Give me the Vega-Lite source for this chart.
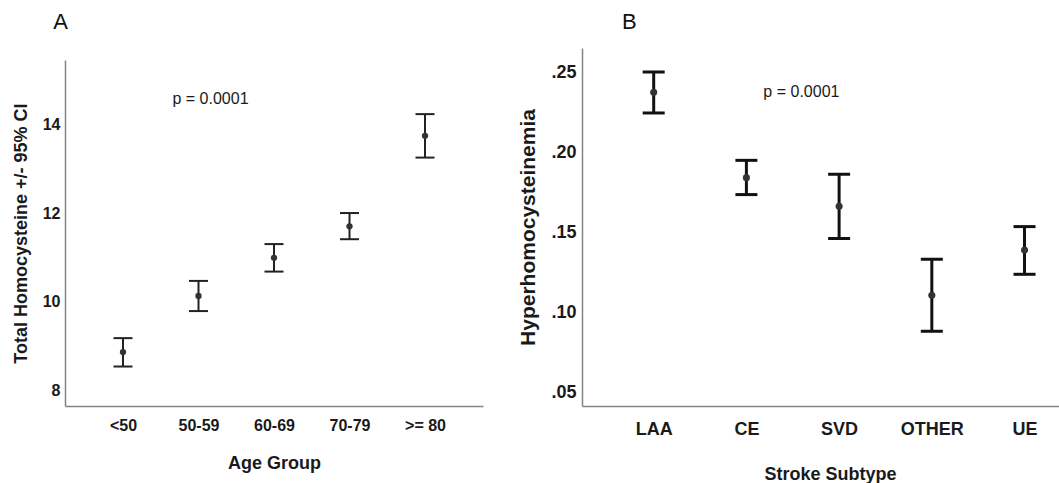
{
  "$schema": "https://vega.github.io/schema/vega-lite/v6.json",
  "background": "white",
  "padding": {"left": 12, "top": 11, "right": 0, "bottom": 0},
  "autosize": {"type": "pad"},
  "spacing": 34,
  "config": {
    "font": "Liberation Sans",
    "view": {"stroke": null},
    "axis": {
      "grid": false,
      "ticks": false,
      "domainColor": "#858585",
      "domainWidth": 1.5,
      "labelColor": "#1a1a1a",
      "titleColor": "#1a1a1a",
      "labelFontWeight": "bold",
      "titleFontWeight": "bold"
    }
  },
  "hconcat": [
    {
      "title": {"text": "A", "anchor": "start", "frame": "bounds", "dx": 41, "offset": 14, "fontSize": 22, "fontWeight": "normal", "color": "#111"},
      "spacing": 10,
      "vconcat": [
        {
          "width": 418,
          "height": 2,
          "data": {"values": [{}]},
          "mark": {"type": "rect", "opacity": 0},
          "encoding": {}
        },
        {
          "width": 418,
          "height": 346,
          "data": {"values": [
            {"group": "<50", "mean": 8.865, "lo": 8.54, "hi": 9.18},
            {"group": "50-59", "mean": 10.13, "lo": 9.79, "hi": 10.47},
            {"group": "60-69", "mean": 10.99, "lo": 10.68, "hi": 11.30},
            {"group": "70-79", "mean": 11.70, "lo": 11.41, "hi": 12.0},
            {"group": ">= 80", "mean": 13.74, "lo": 13.25, "hi": 14.23}
          ]},
          "encoding": {
            "x": {"field": "group", "type": "ordinal", "sort": null,
              "scale": {"type": "point", "padding": 0.768},
              "axis": {"title": "Age Group", "labelAngle": 0, "labelFontSize": 16, "titleFontSize": 18, "labelPadding": 11, "titlePadding": 21}}
          },
          "layer": [
            {"mark": {"type": "rule", "strokeWidth": 2, "color": "#222"},
             "encoding": {
               "y": {"field": "lo", "type": "quantitative", "scale": {"domain": [7.65, 15.45], "nice": false, "zero": false},
                 "axis": {"title": "Total Homocysteine +/- 95% CI", "values": [8, 10, 12, 14], "labelFontSize": 16, "labelPadding": 5, "titleFontSize": 18, "titlePadding": 12}},
               "y2": {"field": "hi"}}},
            {"mark": {"type": "tick", "size": 19, "thickness": 2, "color": "#222", "opacity": 1},
             "encoding": {"y": {"field": "lo", "type": "quantitative"}}},
            {"mark": {"type": "tick", "size": 19, "thickness": 2, "color": "#222", "opacity": 1},
             "encoding": {"y": {"field": "hi", "type": "quantitative"}}},
            {"mark": {"type": "point", "filled": true, "size": 40, "color": "#333", "opacity": 1},
             "encoding": {"y": {"field": "mean", "type": "quantitative"}}},
            {"data": {"values": [{"label": "p = 0.0001"}]},
             "mark": {"type": "text", "fontSize": 16, "dx": 12, "color": "#1a1a1a", "baseline": "middle"},
             "encoding": {"text": {"field": "label"}, "x": {"datum": "50-59"}, "y": {"datum": 14.56}}}
          ]
        }
      ]
    },
    {
      "width": 478,
      "height": 358,
      "title": {"text": "B", "anchor": "start", "frame": "group", "dx": 40, "offset": 14, "fontSize": 22, "fontWeight": "normal", "color": "#111"},
      "data": {"values": [
        {"group": "LAA", "mean": 0.2373, "lo": 0.2244, "hi": 0.25},
        {"group": "CE", "mean": 0.184, "lo": 0.1734, "hi": 0.1948},
        {"group": "SVD", "mean": 0.1661, "lo": 0.1459, "hi": 0.1861},
        {"group": "OTHER", "mean": 0.1105, "lo": 0.088, "hi": 0.133},
        {"group": "UE", "mean": 0.1388, "lo": 0.1236, "hi": 0.1534}
      ]},
      "encoding": {
        "x": {"field": "group", "type": "ordinal", "sort": null,
          "scale": {"type": "point", "padding": 0.578, "align": 0.669},
          "axis": {"title": "Stroke Subtype", "labelAngle": 0, "labelFontSize": 18, "titleFontSize": 18, "labelPadding": 14, "titlePadding": 27, "titleX": 248}}
      },
      "layer": [
        {"mark": {"type": "rule", "strokeWidth": 3, "color": "#111"},
         "encoding": {
           "y": {"field": "lo", "type": "quantitative", "scale": {"domain": [0.0413, 0.265], "nice": false, "zero": false},
             "axis": {"title": "Hyperhomocysteinemia", "values": [0.05, 0.1, 0.15, 0.2, 0.25], "labelExpr": "replace(format(datum.value, '.2f'), '0.', '.')", "labelFontSize": 18, "labelPadding": 6, "titleFontSize": 21, "titlePadding": 12}},
           "y2": {"field": "hi"}}},
        {"mark": {"type": "tick", "size": 22, "thickness": 3, "color": "#111", "opacity": 1},
         "encoding": {"y": {"field": "lo", "type": "quantitative"}}},
        {"mark": {"type": "tick", "size": 22, "thickness": 3, "color": "#111", "opacity": 1},
         "encoding": {"y": {"field": "hi", "type": "quantitative"}}},
        {"mark": {"type": "point", "filled": true, "size": 50, "color": "#333", "opacity": 1},
         "encoding": {"y": {"field": "mean", "type": "quantitative"}}},
        {"data": {"values": [{"label": "p = 0.0001"}]},
         "mark": {"type": "text", "fontSize": 16, "dx": 55, "color": "#1a1a1a", "baseline": "middle"},
         "encoding": {"text": {"field": "label"}, "x": {"datum": "CE"}, "y": {"datum": 0.2375}}}
      ]
    }
  ]
}
